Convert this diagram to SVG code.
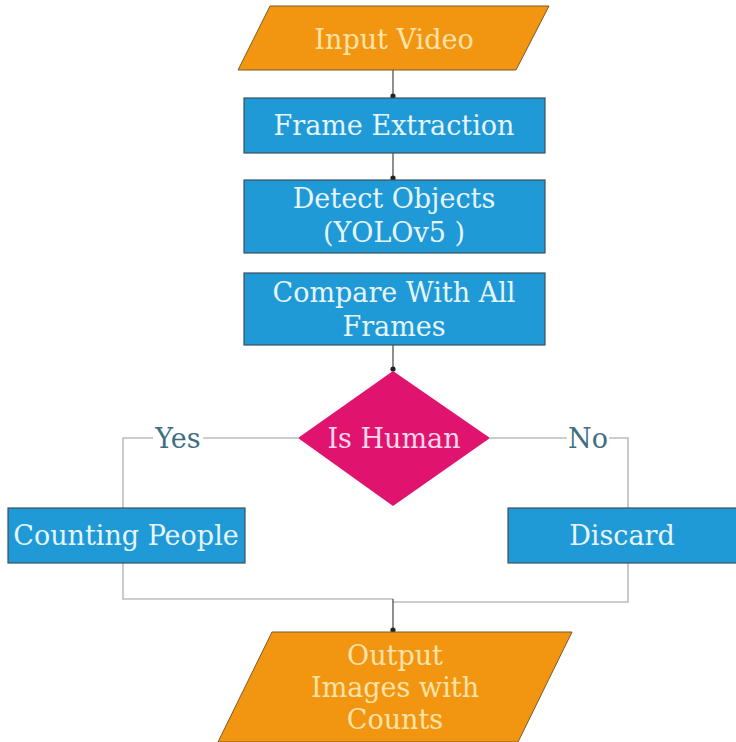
<svg xmlns="http://www.w3.org/2000/svg" width="736" height="742" viewBox="0 0 736 742">
<style>
.t{font-family:"DejaVu Serif","Liberation Serif",serif;font-size:27px;text-anchor:middle}
.box{fill:#1f9ad6;stroke:#3e4f5a;stroke-width:1.2}
.io{fill:#f29611;stroke:#7a5a2a;stroke-width:1}
.wt{fill:#e6f5fb}
.yt{fill:#fde3a8}
.lab{fill:#3e6f80;font-family:"DejaVu Serif","Liberation Serif",serif;font-size:27px;text-anchor:middle}
.c{fill:none;stroke:#444;stroke-width:1.2}
.g{fill:none;stroke:#bdbdbd;stroke-width:1.6}
</style>
<defs>
<marker id="dot" markerWidth="6" markerHeight="6" refX="3" refY="3" markerUnits="userSpaceOnUse">
<circle cx="3" cy="3" r="2.6" fill="#222"/>
</marker>
</defs>
<rect width="736" height="742" fill="#ffffff"/>
<g id="connectors">
<line class="c" x1="393" y1="70" x2="393" y2="96" marker-end="url(#dot)"/>
<line class="c" x1="393" y1="153" x2="393" y2="178" marker-end="url(#dot)"/>
<line class="c" x1="393" y1="345" x2="393" y2="369" marker-end="url(#dot)"/>
<polyline class="g" points="298,438 123,438 123,508"/>
<polyline class="g" points="490,438 628,438 628,508"/>
<polyline class="g" points="123,563 123,599 393,599"/>
<polyline class="g" points="628,563 628,602 393,602"/>
<line class="c" x1="393" y1="599" x2="393" y2="630" marker-end="url(#dot)"/>
<rect x="153" y="426" width="50" height="26" fill="#ffffff"/>
<rect x="567" y="426" width="42" height="26" fill="#ffffff"/>
<text class="lab" x="178" y="448">Yes</text>
<text class="lab" x="588" y="448">No</text>
</g>
<g id="input-video">
<polygon class="io" points="270,6 549,6 516,70 238,70"/>
<text class="t yt" x="394" y="49">Input Video</text>
</g>
<g id="frame-extraction">
<rect class="box" x="244" y="98" width="301" height="55"/>
<text class="t wt" x="394" y="135">Frame Extraction</text>
</g>
<g id="detect-objects">
<rect class="box" x="244" y="180" width="301" height="73"/>
<text class="t wt" x="394" y="208">Detect Objects</text>
<text class="t wt" x="394" y="242">(YOLOv5 )</text>
</g>
<g id="compare">
<rect class="box" x="244" y="273" width="301" height="72"/>
<text class="t wt" x="394" y="302">Compare With All</text>
<text class="t wt" x="394" y="336">Frames</text>
</g>
<g id="is-human">
<polygon points="393,371 490,438 393,506 298,438" fill="#e0136f"/>
<text class="t" x="394" y="448" fill="#fbd7ea">Is Human</text>
</g>
<g id="counting-people">
<rect class="box" x="8" y="508" width="237" height="55"/>
<text class="t wt" x="126" y="545">Counting People</text>
</g>
<g id="discard">
<rect class="box" x="508" y="508" width="229" height="55"/>
<text class="t wt" x="622" y="545">Discard</text>
</g>
<g id="output">
<polygon class="io" points="272,632 572,632 518,742 218,742"/>
<text class="t yt" x="395" y="665">Output</text>
<text class="t yt" x="395" y="697">Images with</text>
<text class="t yt" x="395" y="729">Counts</text>
</g>
</svg>
